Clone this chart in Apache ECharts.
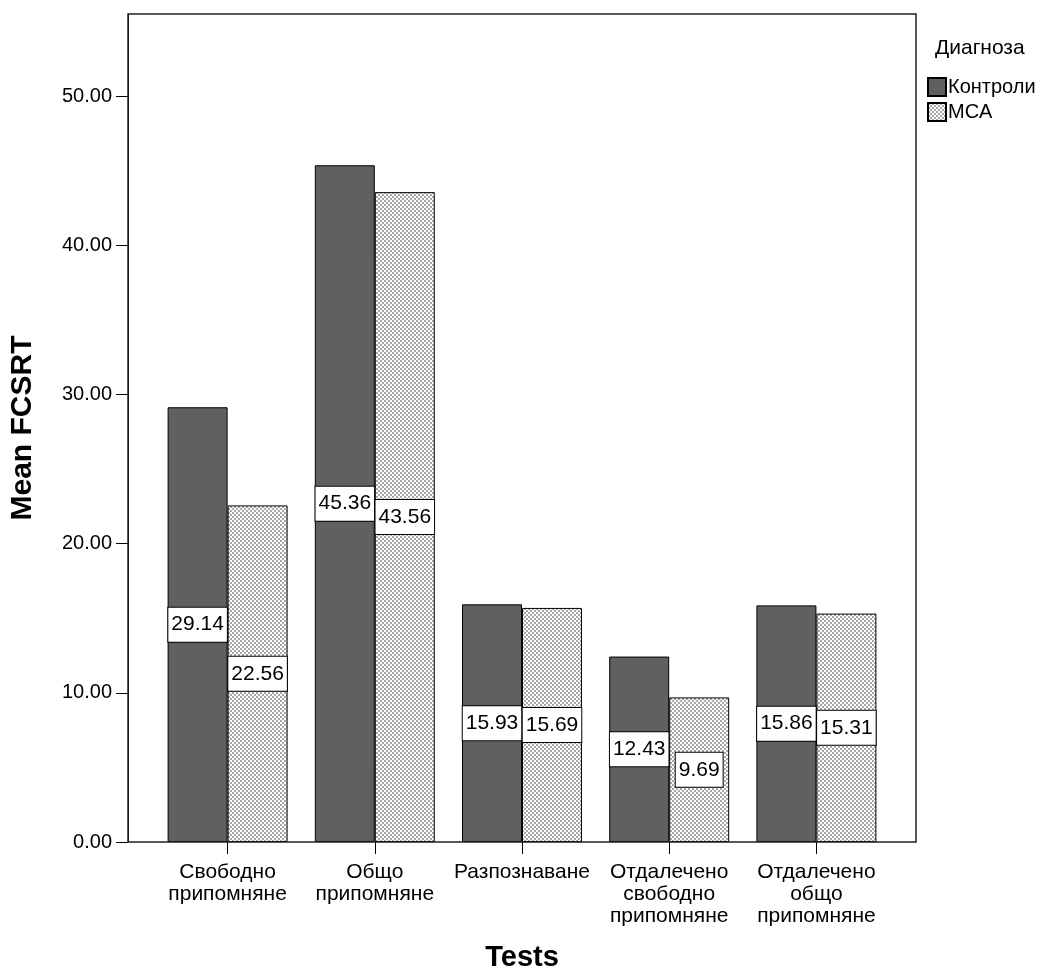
<!DOCTYPE html>
<html>
<head>
<meta charset="utf-8">
<script src="https://cdn.jsdelivr.net/npm/echarts@6/dist/echarts.min.js"></script>
<style>html,body{margin:0;padding:0;background:#fff}#c{width:1048px;height:970px}</style>
</head>
<body>
<div id="c"></div>
<script>
var categories = ['Свободно\nприпомняне', 'Общо\nприпомняне', 'Разпознаване', 'Отдалечено\nсвободно\nприпомняне', 'Отдалечено\nобщо\nприпомняне'];
var controls = [29.14, 45.36, 15.93, 12.43, 15.86];
var msa = [22.56, 43.56, 15.69, 9.69, 15.31];
var yTicks = [0, 10, 20, 30, 40, 50];
var seriesNames = ['Контроли', 'MCA'];
var legendTitle = 'Диагноза';
var xName = 'Tests';
var yName = 'Mean FCSRT';

var FONT = '"Liberation Sans", Arial, sans-serif';

var pc = document.createElement('canvas');
pc.width = 4; pc.height = 4;
var ctx = pc.getContext('2d');
ctx.fillStyle = '#ffffff'; ctx.fillRect(0, 0, 4, 4);
ctx.fillStyle = '#a8a8a8';
ctx.fillRect(0, 0, 2, 2);
ctx.fillRect(2, 2, 2, 2);
var pattern = { image: pc, repeat: 'repeat' };

var labelStyle = {
  show: true, position: 'inside', color: '#000', fontFamily: FONT, fontSize: 21,
  backgroundColor: '#fff', borderColor: '#000', borderWidth: 1, padding: [7, 3, 6, 3],
  formatter: function (p) { return p.value.toFixed(2); }
};

var chart = echarts.init(document.getElementById('c'), null, { renderer: 'canvas' });
chart.setOption({
  animation: false,
  backgroundColor: '#fff',
  title: { text: legendTitle, left: 930, top: 33, textStyle: { fontFamily: FONT, fontSize: 21, fontWeight: 'normal', color: '#000' } },
  legend: {
    orient: 'vertical', left: 922, top: 72, itemWidth: 18, itemHeight: 18, itemGap: 5,
    icon: 'rect', data: seriesNames,
    textStyle: { fontFamily: FONT, fontSize: 20, color: '#000', padding: [0, 0, 0, -3] }
  },
  grid: { left: 154, right: 158, top: 14, bottom: 128, containLabel: false, outerBoundsMode: 'none' },
  xAxis: {
    type: 'category', data: categories,
    axisLine: { show: false },
    axisTick: { show: true, alignWithLabel: true, length: 12, lineStyle: { color: '#000' } },
    axisLabel: { fontFamily: FONT, fontSize: 21, color: '#000', lineHeight: 22, margin: 19, interval: 0 },
    name: xName, nameLocation: 'middle', nameGap: 101,
    nameTextStyle: { fontFamily: FONT, fontSize: 29, fontWeight: 'bold', color: '#000' }
  },
  yAxis: {
    type: 'value', min: 0, max: 55.5, offset: 26,
    axisLine: { show: true, lineStyle: { color: '#000' } },
    axisTick: { show: true, length: 12, customValues: yTicks, lineStyle: { color: '#000' } },
    axisLabel: { customValues: yTicks, fontFamily: FONT, fontSize: 20, color: '#000', margin: 16,
      formatter: function (v) { return v.toFixed(2); } },
    splitLine: { show: false },
    name: yName, nameLocation: 'middle', nameGap: 90,
    nameTextStyle: { fontFamily: FONT, fontSize: 30, fontWeight: 'bold', color: '#000' }
  },
  graphic: [{
    type: 'rect', shape: { x: 128, y: 14, width: 788, height: 828 },
    style: { fill: 'none', stroke: '#222', lineWidth: 1.5 }, z: 10, silent: true
  }],
  series: [
    { name: seriesNames[0], type: 'bar', data: controls, barGap: '0%', barCategoryGap: '18.5%',
      itemStyle: { color: '#606060', borderColor: '#000', borderWidth: 1 }, label: labelStyle },
    { name: seriesNames[1], type: 'bar', data: msa, barGap: '0%', barCategoryGap: '18.5%',
      itemStyle: { color: pattern, borderColor: '#000', borderWidth: 1 }, label: labelStyle }
  ]
});
</script>
</body>
</html>
